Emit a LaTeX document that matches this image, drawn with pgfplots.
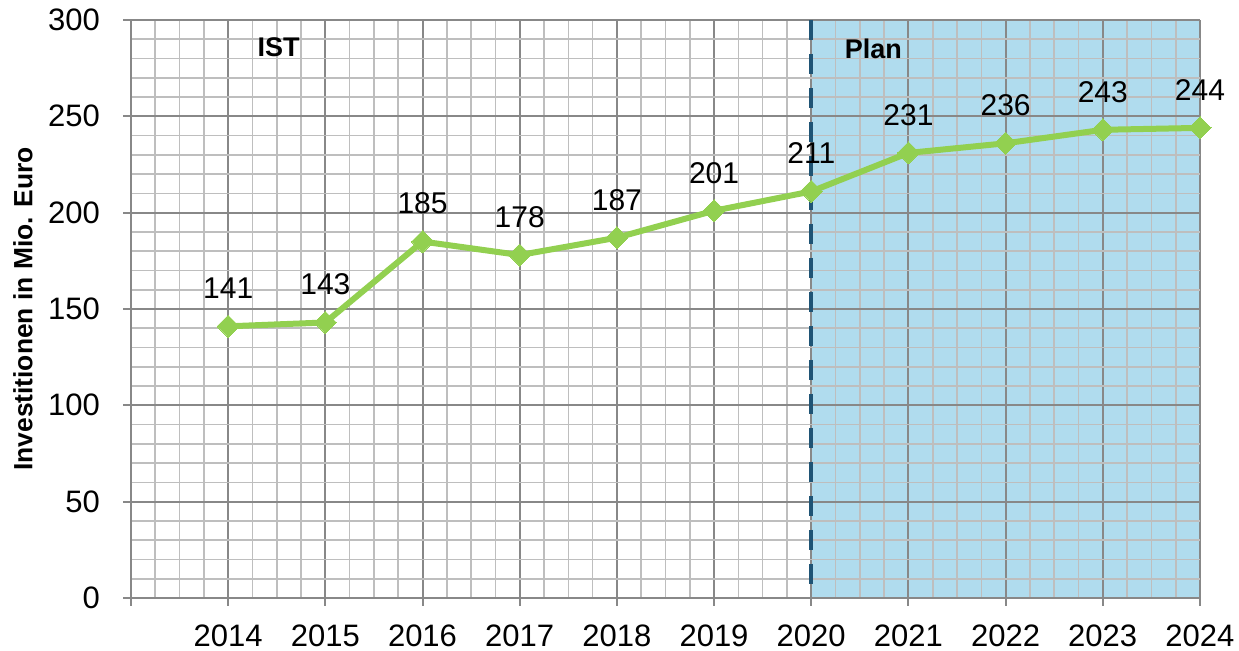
\documentclass[border=0pt]{standalone}
\usepackage{fontspec}
\setmainfont{Liberation Sans}
\usepackage{pgfplots}
\pgfplotsset{compat=1.18}
\definecolor{gmaj}{RGB}{136,136,136}
\definecolor{gmin}{RGB}{190,190,190}
\definecolor{lgreen}{RGB}{146,208,80}
\definecolor{planblue}{RGB}{176,220,238}
\definecolor{dashblue}{RGB}{31,84,117}
\begin{document}
\begin{tikzpicture}
\begin{axis}[
 set layers,
 scale only axis, width=534.5pt, height=289pt,
 xmin=2013, xmax=2024, ymin=0, ymax=300,
 axis lines*=left,
 axis line style={draw=gmaj, line width=1pt},
 xtick={2013,...,2024},
 xticklabels={,2014,2015,2016,2017,2018,2019,2020,2021,2022,2023,2024},
 minor xtick={2013,2013.25,...,2024},
 ytick={0,50,...,300},
 minor ytick={0,10,...,300},
 tick align=outside, major tick length=4pt, minor tick length=0pt,
 tick style={draw=gmaj, line width=1pt},
 grid=both,
 major grid style={draw=gmaj, line width=1pt},
 minor grid style={draw=gmin, line width=0.8pt},
 tick label style={font=\fontsize{15.5}{18}\selectfont},
 /pgf/number format/assume math mode=true,
 xticklabel style={yshift=-6pt},
 yticklabel style={xshift=-8pt},
 clip=false,
]
\addplot[on layer=axis background, draw=none, fill=planblue] coordinates {(2020,0) (2020,300) (2024,300) (2024,0)} -- cycle;
\addplot[dashblue, line width=2pt, dash pattern=on 10pt off 7pt] coordinates {(2020,300) (2020,0)};
\addplot[lgreen, line width=3pt, mark=square*, mark size=3.9pt,
  mark options={solid, rotate=45, fill=lgreen, draw=lgreen, line width=0pt},
  nodes near coords,
  nodes near coords style={font=\fontsize{15}{18}\selectfont, text=black, anchor=center, yshift=19pt}]
 coordinates {(2014,141) (2015,143) (2016,185) (2017,178) (2018,187) (2019,201) (2020,211) (2021,231) (2022,236) (2023,243) (2024,244)};
\node[font=\bfseries\fontsize{13.5}{16}\selectfont] at (axis cs:2014.52,286) {IST};
\node[font=\bfseries\fontsize{13.5}{16}\selectfont] at (axis cs:2020.64,285) {Plan};
\node[rotate=90, font=\bfseries\fontsize{13.2}{16}\selectfont] at ([xshift=-54pt]rel axis cs:0,0.5) {Investitionen in Mio. Euro};
\coordinate (SW) at (rel axis cs:0,0);
\coordinate (NE) at (rel axis cs:1,1);
\end{axis}
\pgfresetboundingbox
\path ([shift={(-65.5pt,-26.5pt)}]SW) rectangle ([shift={(19.5pt,10pt)}]NE);
\end{tikzpicture}
\end{document}
